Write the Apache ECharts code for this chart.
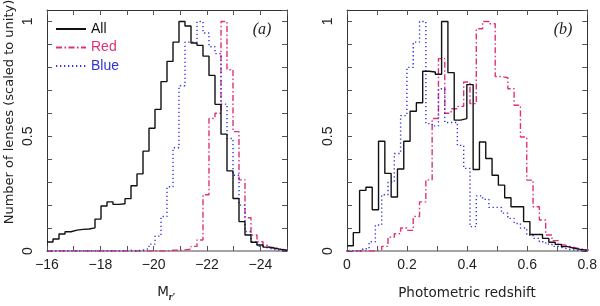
<!DOCTYPE html>
<html><head><meta charset="utf-8">
<script src="https://cdn.jsdelivr.net/npm/echarts@6/dist/echarts.min.js"></script>
<style>html,body{margin:0;padding:0;background:#fff}#c{width:600px;height:306px}</style>
</head><body><div id="c"></div>
<script>
// ---- Panel (a): absolute magnitude histograms (40 bins of 0.225 mag from -16) ----
const magBinStart = -16;
const magBinWidth = -0.225;
const magAll = [0.039,0.052,0.074,0.084,0.091,0.094,0.096,0.101,0.139,0.196,
                0.214,0.203,0.206,0.228,0.284,0.336,0.435,0.535,0.617,0.738,
                0.826,0.910,1.000,0.980,0.906,0.896,0.849,0.765,0.639,0.509,
                0.349,0.229,0.128,0.070,0.038,0.026,0.017,0.012,0.007,0.003];
const magRed = [0,0,0,0,0,0,0,0,0,0,
                0,0,0,0.003,0,0,0,0,0,0,
                0.003,0.003,0.005,0.008,0.02,0.048,0.245,0.577,0.6,1.0,
                0.79,0.52,0.31,0.145,0.07,0.04,0.025,0.015,0.008,0.004];
const magBlue = [0,0,0,0,0,0,0,0,0,0,
                 0,0,0,0,0,0.004,0.01,0.03,0.065,0.15,
                 0.28,0.45,0.72,0.91,0.91,1.0,0.95,0.89,0.86,0.64,
                 0.49,0.33,0.2,0.085,0.04,0.02,0.012,0.006,0.003,0];

// ---- Panel (b): photometric redshift histograms (bins of 0.021) ----
const zAllBinStart = 0;
const zColourBinStart = -0.0105;
const zBinWidth = 0.021;
const zAll = [0.023,0.080,0.264,0.278,0.180,0.478,0.338,0.235,0.357,0.478,
              0.609,0.646,0.783,0.780,0.770,1.000,0.777,0.570,0.577,0.725,
              0.355,0.475,0.403,0.330,0.287,0.232,0.193,0.193,0.128,0.072,
              0.072,0.055,0.038,0.029,0.019,0.012,0.007,0.003];
const zRed = [0,0,0,0,0,0.005,0.02,0.06,0.075,0.1,
              0.09,0.15,0.214,0.31,0.577,0.838,0.6,0.62,0.63,0.736,
              0.642,0.968,1.0,0.99,0.76,0.755,0.707,0.635,0.497,0.309,
              0.193,0.135,0.07,0.045,0.026,0.019,0.012,0.007,0.003];
const zBlue = [0,0,0,0.01,0.04,0.113,0.245,0.3,0.425,0.59,
               0.8,0.91,1.0,0.555,0.545,0.707,0.56,0.56,0.46,0.36,
               0.106,0.24,0.225,0.19,0.19,0.165,0.142,0.12,0.1,0.07,
               0.055,0.04,0.03,0.02,0.012,0.006,0.003,0,0];

// ---- tick labels ----
const magTickLabels = [-16,-18,-20,-22,-24];
const zTickLabels = [0,0.2,0.4,0.6,0.8];
const yTickLabels = [0,0.5,1];

const colAll = '#111111', colRed = '#e0307a', colBlue = '#3030e0';
const frameCol = '#333', tickCol = '#555', textCol = '#222';

function steps(start, width, vals) {
  const pts = vals.map((v, i) => [start + i * width, v]);
  pts.push([start + vals.length * width, vals[vals.length - 1]]);
  return pts;
}
function inList(list, v) { return list.some(t => Math.abs(t - v) < 1e-6); }

function xAxis(gi, position, min, max, interval, inverse, list, fmt) {
  const bottom = position === 'bottom';
  return {
    type: 'value', gridIndex: gi, position, min, max, interval, inverse,
    axisLine: { show: true, onZero: false, lineStyle: { color: bottom ? '#888' : frameCol, width: bottom ? 1.6 : 1 } },
    axisTick: { show: true, inside: true, length: 5, lineStyle: { color: tickCol } },
    splitLine: { show: false },
    axisLabel: { show: bottom, margin: 7, color: textCol, fontFamily: 'Liberation Sans', fontSize: 14,
      formatter: v => inList(list, v) ? fmt(v) : '' }
  };
}
function yAxis(gi, position) {
  const left = position === 'left';
  return {
    type: 'value', gridIndex: gi, position, min: 0, max: 1.05, interval: 0.1,
    axisLine: { show: true, onZero: false, lineStyle: { color: frameCol, width: 1 } },
    axisTick: { show: true, inside: true, length: 5, lineStyle: { color: tickCol } },
    splitLine: { show: false },
    axisLabel: { show: left, rotate: 90, margin: 12, color: textCol, fontFamily: 'Liberation Sans', fontSize: 14,
      showMaxLabel: false,
      formatter: v => inList(yTickLabels, v) ? String(Math.round(v * 10) / 10) : '' }
  };
}
const magFmt = v => '\u2212' + Math.abs(Math.round(v));
const zFmt = v => String(Math.round(v * 10) / 10);

function line(name, data, xi, yi, color, type, z) {
  return { name, type: 'line', step: 'end', symbol: 'none', showSymbol: false, data,
    xAxisIndex: xi, yAxisIndex: yi, z, animation: false,
    lineStyle: { color, width: 1.4, type, cap: 'butt' }, itemStyle: { color } };
}

const chart = echarts.init(document.getElementById('c'), null, { renderer: 'canvas' });
chart.setOption({
  backgroundColor: '#fff',
  animation: false,
  grid: [
    { left: 47, top: 10, width: 240, height: 241 },
    { left: 347, top: 10, width: 241, height: 241 }
  ],
  xAxis: [
    xAxis(0, 'bottom', -25, -16, 1, true, magTickLabels, magFmt),
    xAxis(0, 'top', -25, -16, 1, true, magTickLabels, magFmt),
    xAxis(1, 'bottom', 0, 0.8, 0.1, false, zTickLabels, zFmt),
    xAxis(1, 'top', 0, 0.8, 0.1, false, zTickLabels, zFmt)
  ],
  yAxis: [ yAxis(0, 'left'), yAxis(0, 'right'), yAxis(1, 'left'), yAxis(1, 'right') ],
  legend: {
    orient: 'vertical', left: 50, top: 17, itemWidth: 30, itemHeight: 12, itemGap: 4.5,
    selectedMode: false,
    itemStyle: { opacity: 0 },
    textStyle: { fontSize: 14, fontFamily: 'Liberation Sans' },
    data: [
      { name: 'All', textStyle: { color: colAll } },
      { name: 'Red', textStyle: { color: colRed } },
      { name: 'Blue', textStyle: { color: colBlue } }
    ]
  },
  series: [
    line('Red', steps(magBinStart, magBinWidth, magRed), 0, 0, colRed, [6, 2.5, 1.5, 2.5], 2),
    line('Blue', steps(magBinStart, magBinWidth, magBlue), 0, 0, colBlue, [1.3, 2.7], 3),
    line('All', steps(magBinStart, magBinWidth, magAll), 0, 0, colAll, 'solid', 4),
    line('Red', steps(zColourBinStart, zBinWidth, zRed), 2, 2, colRed, [6, 2.5, 1.5, 2.5], 2),
    line('Blue', steps(zColourBinStart, zBinWidth, zBlue), 2, 2, colBlue, [1.3, 2.7], 3),
    line('All', steps(zAllBinStart, zBinWidth, zAll), 2, 2, colAll, 'solid', 4)
  ],
  graphic: [
    { type: 'text', x: 10, y: 112, rotation: Math.PI / 2,
      style: { text: 'Number of lenses (scaled to unity)', align: 'center', verticalAlign: 'middle',
        textAlign: 'center', textVerticalAlign: 'middle',
        font: '13px "DejaVu Sans"', fill: textCol } },
    { type: 'text', x: 262, y: 30,
      style: { text: '(a)', align: 'center', verticalAlign: 'middle', textAlign: 'center', textVerticalAlign: 'middle',
        font: 'italic 16px "Liberation Serif"', fill: textCol } },
    { type: 'text', x: 563, y: 30,
      style: { text: '(b)', align: 'center', verticalAlign: 'middle', textAlign: 'center', textVerticalAlign: 'middle',
        font: 'italic 16px "Liberation Serif"', fill: textCol } },
    { type: 'text', x: 467, y: 293,
      style: { text: 'Photometric redshift', align: 'center', verticalAlign: 'middle', textAlign: 'center', textVerticalAlign: 'middle',
        font: '13.5px "DejaVu Sans"', fill: textCol } },
    { type: 'text', x: 163, y: 292,
      style: { text: 'M', align: 'center', verticalAlign: 'middle', textAlign: 'center', textVerticalAlign: 'middle',
        font: '13.5px "DejaVu Sans"', fill: textCol } },
    { type: 'text', x: 172, y: 297,
      style: { text: 'r\u2032', align: 'center', verticalAlign: 'middle', textAlign: 'center', textVerticalAlign: 'middle',
        font: 'italic bold 10px "Liberation Serif"', fill: textCol } }
  ]
});
</script></body></html>
